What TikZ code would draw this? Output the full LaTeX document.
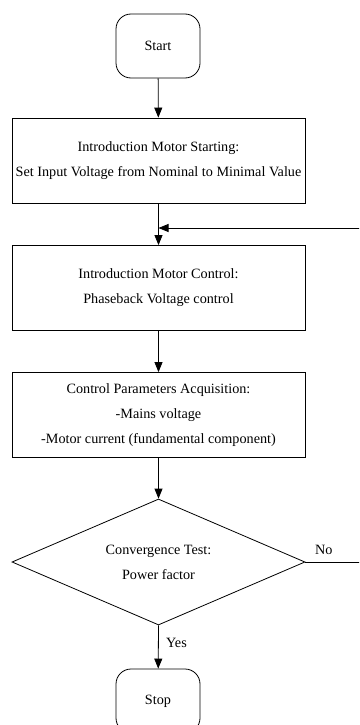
\documentclass[tikz,border=0pt]{standalone}
\usepackage{fontspec}
\setmainfont{Liberation Serif}
\usepackage{tikz}
\usetikzlibrary{shapes.geometric,arrows.meta}
\tikzset{
  flowbox/.style={draw,line width=0.8pt,minimum width=293pt,minimum height=85pt,align=center},
  termbox/.style={draw,line width=0.8pt,rounded corners=15pt,minimum width=84pt,minimum height=64pt},
  testbox/.style={draw,line width=0.8pt,diamond,aspect=2.33,minimum width=293pt,minimum height=126pt,align=center,inner sep=0pt},
  flowarrow/.style={line width=0.8pt,-{Triangle[length=10pt,width=8pt]}}
}

\begin{document}
\begin{tikzpicture}[x=1pt,y=-1pt,font=\fontsize{14.2}{25}\selectfont]
        \useasboundingbox (0,0) rectangle (359,725);
        \clip (0,0) rectangle (359,725);
        \node[termbox](start) at (158,46) {Start};
        \node[flowbox](starting) at (158.5,160.5) {Introduction Motor Starting:\\Set Input Voltage from Nominal to Minimal Value};
        \node[flowbox](control) at (158.5,288) {Introduction Motor Control:\\Phaseback Voltage control};
        \node[flowbox](acquire) at (158.5,415) {Control Parameters Acquisition:\\-Mains voltage\\-Motor current (fundamental component)};
        \node[testbox](test) at (158.5,562) {Convergence Test:\\Power factor};
        \node[termbox](stop) at (158,701) {Stop};
        \coordinate(join) at (158.5,228);
        \draw[flowarrow](start)--(starting);
        \draw[line width=0.8pt](starting.south)--(join);
        \draw[flowarrow](join)--(control);
        \draw[flowarrow](control)--(acquire);
        \draw[flowarrow](acquire)--(test);
        \draw[flowarrow](test.south)--(stop)node[pos=0.4,right=4pt]{Yes};
        \draw[flowarrow](test.east)--++(80,0)node[pos=0.23,above=4pt]{No}|-(join);
    \end{tikzpicture}
\end{document}
